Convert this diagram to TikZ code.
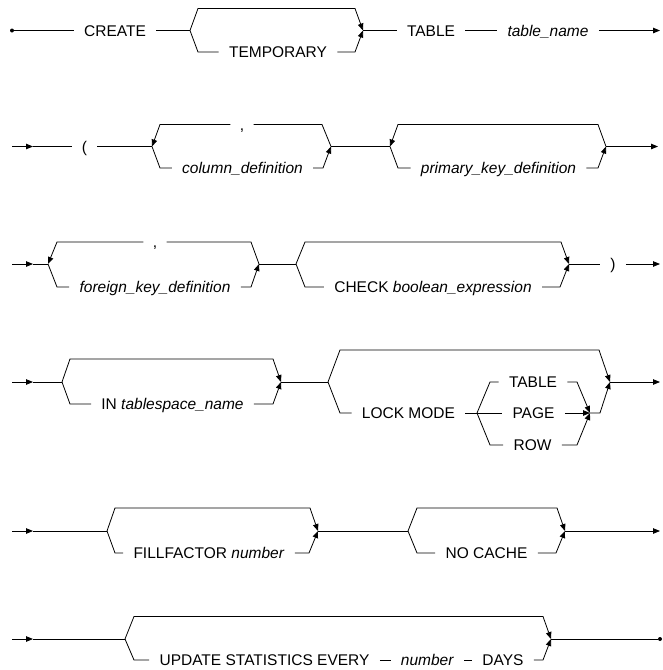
\documentclass[tikz,border=0pt]{standalone}
\usepackage{fontspec}
\setmainfont{Liberation Sans}
\usetikzlibrary{arrows.meta,calc}
\begin{document}
\begin{tikzpicture}[x=1pt,y=-1pt,line width=0.8pt,
  arr/.style={-{Triangle[length=7pt,width=5.5pt]}},
  kw/.style={inner xsep=10pt, inner ysep=0pt, text height=11pt, text depth=0pt, font=\fontsize{15.5}{18}\selectfont},
  dotnode/.style={circle, fill, inner sep=0pt, minimum size=4pt}]
\useasboundingbox (0,0) rectangle (662,670);

% ---------- Row 1 ----------
\node[dotnode] (s1) at (12,30.5) {};
\node[kw] (create) at (115,30.5) {CREATE};
\coordinate (j1a) at (190,30.5);
\node[kw] (temp) at (278,52) {TEMPORARY};
\coordinate (j1b) at (363,30.5);
\node[kw] (table) at (431,30.5) {TABLE};
\node[kw] (tname) at (548,30.5) {\textit{table\_name}};
\coordinate (e1) at (660,30.5);
\draw (s1) -- (create);
\draw (create) -- (j1a);
\draw[arr] (j1a) -- +(8,-22) -- ($(j1b)+(-8,-22)$) -- (j1b);
\draw (j1a) -- +(8,21.5) -- (temp);
\draw[arr] (temp) -- ($(j1b)+(-8,21.5)$) -- (j1b);
\draw (j1b) -- (table);
\draw (table) -- (tname);
\draw[arr] (tname) -- (e1);

% ---------- Row 2 ----------
\coordinate (s2) at (12,146.5);
\coordinate (a2) at (33,146.5);
\node[kw] (lp) at (84.5,146.5) {(};
\coordinate (j2a) at (152,146.5);
\node[kw,inner xsep=9pt] (c1) at (242,124.5) {,};
\node[kw] (coldef) at (242.5,168) {\textit{column\_definition}};
\coordinate (j2b) at (331,146.5);
\coordinate (j2c) at (390,146.5);
\node[kw] (pkd) at (498.5,168) {\textit{primary\_key\_definition}};
\coordinate (j2d) at (606,146.5);
\coordinate (e2) at (658,146.5);
\draw[arr] (s2) -- (a2);
\draw (a2) -- (lp);
\draw (lp) -- (j2a);
\draw (j2b) -- +(-9,-22) -- (c1);
\draw[arr] (c1) -- ($(j2a)+(8,-22)$) -- (j2a);
\draw (j2a) -- +(8,21.5) -- (coldef);
\draw[arr] (coldef) -- ($(j2b)+(-8,21.5)$) -- (j2b);
\draw (j2b) -- (j2c);
\draw[arr] (j2d) -- +(-8,-22) -- ($(j2c)+(8,-22)$) -- (j2c);
\draw (j2c) -- +(8,21.5) -- (pkd);
\draw[arr] (pkd) -- ($(j2d)+(-8,21.5)$) -- (j2d);
\draw[arr] (j2d) -- (e2);

% ---------- Row 3 ----------
\coordinate (s3) at (12,264);
\coordinate (a3) at (33,264);
\coordinate (j3a) at (48,264);
\node[kw,inner xsep=9pt] (c2) at (155,242) {,};
\node[kw] (fkd) at (155,287) {\textit{foreign\_key\_definition}};
\coordinate (j3b) at (259,264);
\coordinate (j3c) at (296,264);
\node[kw] (chk) at (433,287) {CHECK \textit{boolean\_expression}};
\coordinate (j3d) at (569,264);
\node[kw] (rp) at (613,264) {)};
\coordinate (e3) at (660,264);
\draw[arr] (s3) -- (a3);
\draw (a3) -- (j3a);
\draw (j3b) -- +(-8,-22) -- (c2);
\draw[arr] (c2) -- ($(j3a)+(9,-22)$) -- (j3a);
\draw (j3a) -- +(9,23) -- (fkd);
\draw[arr] (fkd) -- ($(j3b)+(-8,23)$) -- (j3b);
\draw (j3b) -- (j3c);
\draw[arr] (j3c) -- +(9,-22) -- ($(j3d)+(-8,-22)$) -- (j3d);
\draw (j3c) -- +(9,23) -- (chk);
\draw[arr] (chk) -- ($(j3d)+(-9,23)$) -- (j3d);
\draw (j3d) -- (rp);
\draw[arr] (rp) -- (e3);

% ---------- Row 4 ----------
\coordinate (s4) at (12,382);
\coordinate (a4) at (33,382);
\coordinate (j4a) at (62,382);
\node[kw] (inn) at (172.5,404) {IN \textit{tablespace\_name}};
\coordinate (j4b) at (281,382);
\coordinate (j4c) at (328,382);
\node[kw] (lock) at (408.5,413) {LOCK MODE};
\coordinate (j4e) at (477,413);
\node[kw] (tbl2) at (533,382) {TABLE};
\node[kw] (page) at (533.5,413) {PAGE};
\node[kw] (row) at (532.5,445) {ROW};
\coordinate (j4f) at (590,413);
\coordinate (j4d) at (610,382);
\coordinate (e4) at (660,382);
\draw[arr] (s4) -- (a4);
\draw (a4) -- (j4a);
\draw[arr] (j4a) -- +(8,-23) -- ($(j4b)+(-8,-23)$) -- (j4b);
\draw (j4a) -- +(8,22) -- (inn);
\draw[arr] (inn) -- ($(j4b)+(-8,22)$) -- (j4b);
\draw (j4b) -- (j4c);
\draw[arr] (j4c) -- +(12,-32) -- ($(j4d)+(-11,-32)$) -- (j4d);
\draw (j4c) -- +(12,31) -- (lock);
\draw (lock) -- (j4e);
\draw (j4e) -- +(13,-31) -- (tbl2);
\draw[arr] (tbl2) -- ($(j4f)+(-13,-31)$) -- (j4f);
\draw (j4e) -- (page);
\draw[arr] (page) -- (j4f);
\draw (j4e) -- +(13,32) -- (row);
\draw[arr] (row) -- ($(j4f)+(-13,32)$) -- (j4f);
\draw[arr] (j4f) -- ($(j4d)+(-10,31)$) -- (j4d);
\draw[arr] (j4d) -- (e4);

% ---------- Row 5 ----------
\coordinate (s5) at (12,531);
\coordinate (a5) at (33,531);
\coordinate (j5a) at (107,531);
\node[kw] (ff) at (209,553) {FILLFACTOR \textit{number}};
\coordinate (j5b) at (318,531);
\coordinate (j5c) at (408,531);
\node[kw] (nc) at (486.5,553) {NO CACHE};
\coordinate (j5d) at (565,531);
\coordinate (e5) at (660,531);
\draw[arr] (s5) -- (a5);
\draw (a5) -- (j5a);
\draw[arr] (j5a) -- +(8,-23) -- ($(j5b)+(-8,-23)$) -- (j5b);
\draw (j5a) -- +(8,22) -- (ff);
\draw[arr] (ff) -- ($(j5b)+(-9,22)$) -- (j5b);
\draw (j5b) -- (j5c);
\draw[arr] (j5c) -- +(9,-23) -- ($(j5d)+(-8,-23)$) -- (j5d);
\draw (j5c) -- +(9,22) -- (nc);
\draw[arr] (nc) -- ($(j5d)+(-9,22)$) -- (j5d);
\draw[arr] (j5d) -- (e5);

% ---------- Row 6 ----------
\coordinate (s6) at (12,639);
\coordinate (a6) at (33,639);
\coordinate (j6a) at (125,639);
\node[kw] (upd) at (264.5,660) {UPDATE STATISTICS EVERY};
\node[kw] (num) at (427.5,660) {\textit{number}};
\node[kw] (days) at (503,660) {DAYS};
\coordinate (j6b) at (551,639);
\node[dotnode] (f6) at (660,639) {};
\draw[arr] (s6) -- (a6);
\draw (a6) -- (j6a);
\draw[arr] (j6a) -- +(9,-22.5) -- ($(j6b)+(-8,-22.5)$) -- (j6b);
\draw (j6a) -- +(9,21) -- (upd);
\draw (upd) -- (num);
\draw (num) -- (days);
\draw[arr] (days) -- ($(j6b)+(-8,21)$) -- (j6b);
\draw (j6b) -- (f6);
\end{tikzpicture}
\end{document}
